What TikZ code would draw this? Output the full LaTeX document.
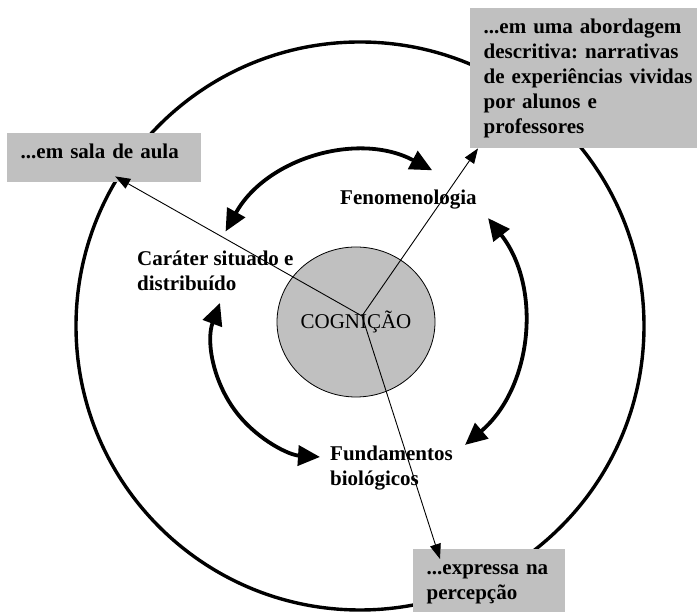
\documentclass[tikz,border=0pt]{standalone}
\usepackage{fontspec}
\setmainfont{Liberation Serif}
\usepackage{tikz}
\usetikzlibrary{arrows.meta,shapes.geometric}
\definecolor{cinza}{HTML}{C0C0C0}
\frenchspacing

\begin{document}
\begin{tikzpicture}[x=1pt, y=1pt,
        caixa/.style={fill=cinza, anchor=north west, align=left, inner xsep=13.5pt, inner ysep=7.5pt,
            font=\bfseries\fontsize{21}{25}\selectfont, execute at begin node=\strut, execute at end node=\strut},
        rotulo/.style={anchor=north west, align=left, inner sep=0pt,
            font=\bfseries\fontsize{21}{25}\selectfont, execute at begin node=\strut, execute at end node=\strut},
        seta/.style={line width=0.9pt, -{Triangle[length=15pt,width=11pt]}},
        dupla/.style={line width=3.8pt, {Triangle[length=22pt,width=20pt]}-{Triangle[length=22pt,width=20pt]}}]

        \useasboundingbox (0,0) rectangle (697,612);

        \draw[line width=3.4pt] (360,286) circle[radius=284pt];

        \node[draw, ellipse, fill=cinza, line width=0.8pt, minimum width=158pt, minimum height=150pt, inner sep=0pt,
            text height=14pt, text depth=0pt, font=\fontsize{21}{25}\selectfont] (cog) at (356,290) {COGNIÇÃO};

        \node[rotulo] (fen) at (340,425.5) {Fenomenologia};
        \node[rotulo] (car) at (137,361.5) {Caráter situado e\\distribuído};
        \node[rotulo] (fun) at (330,166.5) {Fundamentos\\biológicos};

        \node[caixa, text width=167pt, text depth=16.5pt] (sala) at (7,479) {...em sala de aula};
        \node[caixa, text width=211pt] (abord) at (470,604) {...em uma abordagem\\descritiva: narrativas\\de experiências vividas\\por alunos e\\professores};
        \node[caixa, text width=125pt] (perc) at (413,63) {...expressa na\\percepção};

        \coordinate (oTopo) at (360,306);
        \coordinate (oEsq) at (327.2,269.2);
        \coordinate (oDir) at (358.3,292.5);
        \draw[dupla] ([shift={(151:153.7pt)}]oTopo) arc[start angle=151, end angle=62, radius=153.7pt];
        \draw[dupla] ([shift={(38:164.7pt)}]oDir) arc[start angle=38, end angle=-49.6, radius=164.7pt];
        \draw[dupla] ([shift={(159.6:114.4pt)}]oEsq) arc[start angle=159.6, end angle=266.4, radius=114.4pt];

        \coordinate (hub) at (362,296);
        \draw[seta] (hub) -- ([xshift=11pt,yshift=6pt]sala.south);
        \draw[seta] (hub) -- ([xshift=8pt]abord.south west);
        \draw[seta] (hub) -- ([xshift=27pt,yshift=-10pt]perc.north west);
    \end{tikzpicture}
\end{document}
